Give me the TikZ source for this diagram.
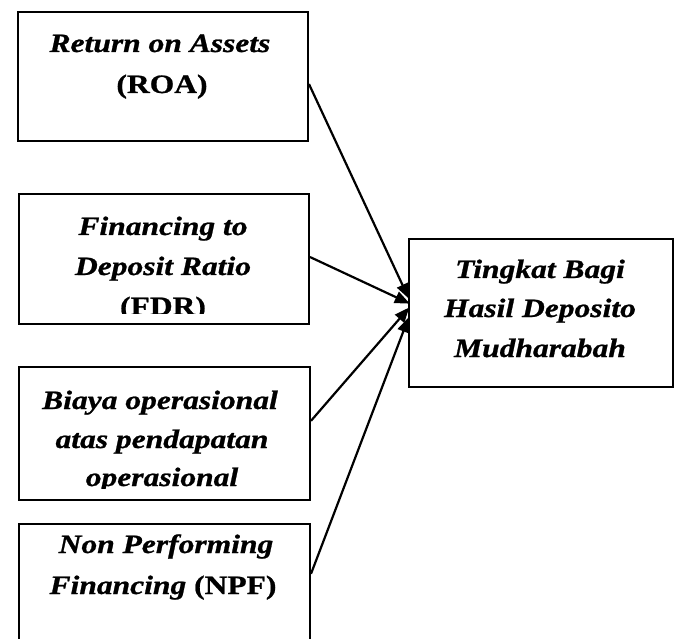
\documentclass[tikz,border=0pt]{standalone}
\usepackage{fontspec}
\setmainfont{Liberation Serif}[FakeStretch=1.19,
  BoldFeatures={FakeBold=0.9}, BoldItalicFeatures={FakeBold=0.9}]
\usetikzlibrary{arrows.meta,calc}
\begin{document}
\begin{tikzpicture}[x=1pt,y=-1pt,
  box/.style={draw, line width=2pt, inner sep=0pt, anchor=north west},
  lbl/.style={anchor=base, inner sep=0pt, font=\fontsize{26.5}{40}\selectfont\bfseries},
  arr/.style={line width=2.2pt, shorten >=-2pt, -{Triangle[length=15pt,width=12pt]}}]
\useasboundingbox (0,0) rectangle (675,639);
\clip (0,0) rectangle (675,639);
\fill[white] (0,0) rectangle (675,639);

% boxes
\node[box, minimum width=290pt, minimum height=129pt] (roa)  at (17,11)  {};
\node[box, minimum width=290pt, minimum height=130pt] (fdr)  at (18,193) {};
\node[box, minimum width=291pt, minimum height=133pt] (bopo) at (18,366) {};
\node[box, minimum width=291pt, minimum height=130pt] (npf)  at (18,523) {};
\node[box, minimum width=264pt, minimum height=148pt] (tbh)  at (408,238) {};

% texts
\node[lbl] (t1a) at (160,52) {\itshape Return on Assets};
\node[lbl] (t1b) at (162,93) {(ROA)};
\begin{scope}
  \clip (18,193) rectangle (308,313);
  \node[lbl] (t2a) at (163,235) {\itshape Financing to};
  \node[lbl] (t2b) at (163,275) {\itshape Deposit Ratio};
  \node[lbl] (t2c) at (163,315) {(FDR)};
\end{scope}
\begin{scope}
  \clip (18,366) rectangle (309,488);
  \node[lbl] (t3a) at (160,409) {\itshape Biaya operasional};
  \node[lbl] (t3b) at (162,448) {\itshape atas pendapatan};
  \node[lbl] (t3c) at (162,486) {\itshape operasional};
\end{scope}
\node[lbl] (t4a) at (166,553) {\itshape Non Performing};
\node[lbl] (t4b) at (163,594) {{\itshape Financing} (NPF)};
\node[lbl] (t5a) at (540,278) {\itshape Tingkat Bagi};
\node[lbl] (t5b) at (540,317) {\itshape Hasil Deposito};
\node[lbl] (t5c) at (540,357) {\itshape Mudharabah};

% connector end points on the borders
\coordinate (s1) at ($(roa.north east)!0.558!(roa.south east)$);
\coordinate (s2) at ($(fdr.north east)!0.485!(fdr.south east)$);
\coordinate (s3) at ($(bopo.north east)!0.406!(bopo.south east)$);
\coordinate (s4) at ($(npf.north east)!0.385!(npf.south east)$);
\coordinate (e1) at ($(tbh.north west)!0.392!(tbh.south west)$);
\coordinate (e2) at ($(tbh.north west)!0.432!(tbh.south west)$);
\coordinate (e3) at ($(tbh.north west)!0.473!(tbh.south west)$);
\coordinate (e4) at ($(tbh.north west)!0.541!(tbh.south west)$);

\draw[arr] (s1) -- (e1);
\draw[arr] (s2) -- (e2);
\draw[arr] (s3) -- (e3);
\draw[arr] (s4) -- (e4);
\end{tikzpicture}
\end{document}
